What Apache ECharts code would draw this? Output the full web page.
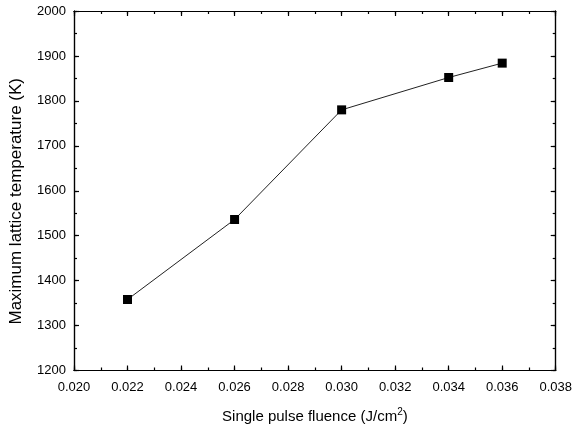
<!DOCTYPE html>
<html>
<head>
<meta charset="utf-8">
<script src="https://cdn.jsdelivr.net/npm/echarts@6/dist/echarts.min.js"></script>
<style>
  html, body { margin: 0; padding: 0; background: #fff; }
  #chart { width: 575px; height: 429px; }
</style>
</head>
<body>
<div id="chart"></div>
<script>
// data
var fluence = [0.022, 0.026, 0.030, 0.034, 0.036];
var temperature = [1358, 1536, 1780, 1852, 1884];

var points = fluence.map(function (f, i) { return [f, temperature[i]]; });

var font = 'Liberation Sans, Arial, sans-serif';

// frame axis: inward ticks, black line, no grid
function frameAxis(extra, tickLen) {
    var base = {
        axisLine: { show: true, onZero: false, lineStyle: { color: '#000', width: 1.2 } },
        axisTick: { show: true, inside: true, length: tickLen, lineStyle: { color: '#000', width: 1.2 } },
        axisLabel: { show: false },
        splitLine: { show: false }
    };
    for (var k in extra) base[k] = extra[k];
    return base;
}

var xBase = { type: 'value', min: 0.020, max: 0.038 };
var yBase = { type: 'value', min: 1200, max: 2000 };
function merge(a, b) { var o = {}; for (var k in a) o[k] = a[k]; for (var j in b) o[j] = b[j]; return o; }

var chart = echarts.init(document.getElementById('chart'));
chart.setOption({
    animation: false,
    backgroundColor: '#fff',
    grid: { left: 72, top: 11, right: 17, bottom: 57 },
    xAxis: [
        frameAxis(merge(xBase, {
            interval: 0.002, position: 'bottom',
            axisLabel: {
                color: '#000', fontSize: 13, fontFamily: font, margin: 10,
                formatter: function (v) { return v.toFixed(3); }
            },
            name: '{a|Single pulse fluence (J/cm}{s|2}{a|)}',
            nameLocation: 'middle', nameGap: 37,
            nameTextStyle: {
                rich: {
                    a: { fontSize: 15, fontFamily: font, color: '#000' },
                    s: { fontSize: 10, fontFamily: font, color: '#000', verticalAlign: 'top', padding: [0, 0, 8, 0] }
                }
            }
        }), 5),
        frameAxis(merge(xBase, { interval: 0.001, position: 'bottom' }), 3),
        frameAxis(merge(xBase, { interval: 0.002, position: 'top' }), 5),
        frameAxis(merge(xBase, { interval: 0.001, position: 'top' }), 3)
    ],
    yAxis: [
        frameAxis(merge(yBase, {
            interval: 100, position: 'left',
            axisLabel: {
                color: '#000', fontSize: 13, fontFamily: font, margin: 8,
                formatter: function (v) { return String(v); }
            },
            name: 'Maximum lattice temperature (K)',
            nameLocation: 'middle', nameGap: 49,
            nameTextStyle: { fontSize: 17, fontFamily: font, color: '#000', padding: [0, 21, 0, 0] }
        }), 5),
        frameAxis(merge(yBase, { interval: 50, position: 'left' }), 3),
        frameAxis(merge(yBase, { interval: 100, position: 'right' }), 5),
        frameAxis(merge(yBase, { interval: 50, position: 'right' }), 3)
    ],
    series: [{
        type: 'line',
        data: points,
        symbol: 'rect',
        symbolSize: 9,
        itemStyle: { color: '#000' },
        lineStyle: { color: '#222', width: 1 }
    }]
});
</script>
</body>
</html>
